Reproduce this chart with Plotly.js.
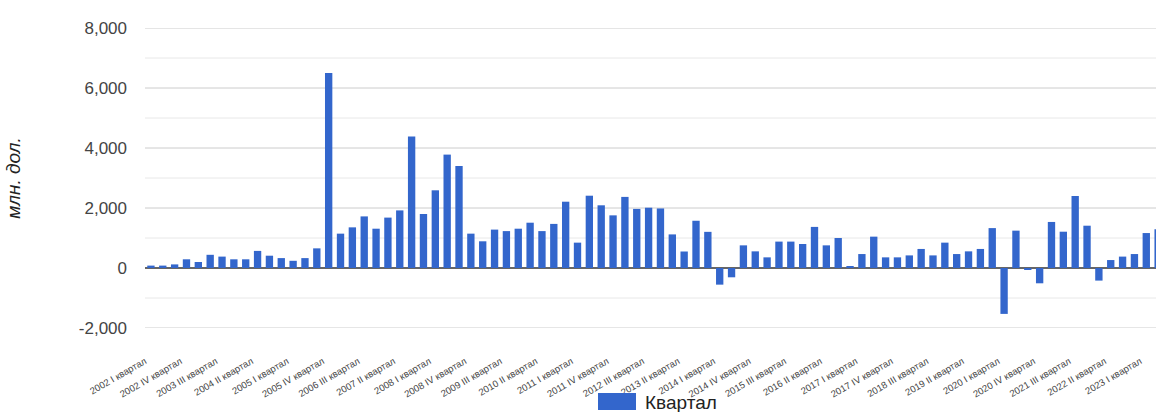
<!DOCTYPE html>
<html>
<head>
<meta charset="utf-8">
<script src="https://cdn.plot.ly/plotly-3.0.1.min.js"></script>
<style>
  html, body { margin: 0; padding: 0; background: #ffffff; }
  #chart { width: 1156px; height: 412px; }
</style>
</head>
<body>
<div id="chart"></div>
<script>
const quarters = [
  "2002 I квартал","2002 II квартал","2002 III квартал","2002 IV квартал",
  "2003 I квартал","2003 II квартал","2003 III квартал","2003 IV квартал",
  "2004 I квартал","2004 II квартал","2004 III квартал","2004 IV квартал",
  "2005 I квартал","2005 II квартал","2005 III квартал","2005 IV квартал",
  "2006 I квартал","2006 II квартал","2006 III квартал","2006 IV квартал",
  "2007 I квартал","2007 II квартал","2007 III квартал","2007 IV квартал",
  "2008 I квартал","2008 II квартал","2008 III квартал","2008 IV квартал",
  "2009 I квартал","2009 II квартал","2009 III квартал","2009 IV квартал",
  "2010 I квартал","2010 II квартал","2010 III квартал","2010 IV квартал",
  "2011 I квартал","2011 II квартал","2011 III квартал","2011 IV квартал",
  "2012 I квартал","2012 II квартал","2012 III квартал","2012 IV квартал",
  "2013 I квартал","2013 II квартал","2013 III квартал","2013 IV квартал",
  "2014 I квартал","2014 II квартал","2014 III квартал","2014 IV квартал",
  "2015 I квартал","2015 II квартал","2015 III квартал","2015 IV квартал",
  "2016 I квартал","2016 II квартал","2016 III квартал","2016 IV квартал",
  "2017 I квартал","2017 II квартал","2017 III квартал","2017 IV квартал",
  "2018 I квартал","2018 II квартал","2018 III квартал","2018 IV квартал",
  "2019 I квартал","2019 II квартал","2019 III квартал","2019 IV квартал",
  "2020 I квартал","2020 II квартал","2020 III квартал","2020 IV квартал",
  "2021 I квартал","2021 II квартал","2021 III квартал","2021 IV квартал",
  "2022 I квартал","2022 II квартал","2022 III квартал","2022 IV квартал",
  "2023 I квартал","2023 II квартал"
];

const values = [
  80, 80, 120, 290,
  200, 440, 380, 290,
  290, 570, 410, 330,
  240, 330, 655, 6500,
  1145, 1355, 1720, 1310,
  1680, 1920, 4380, 1800,
  2590, 3780, 3400, 1145,
  890, 1280, 1230, 1310,
  1510, 1230, 1470, 2210,
  845, 2410, 2090, 1755,
  2370, 1970, 2010, 1985,
  1120, 550, 1575, 1205,
  -555, -310, 755, 555,
  355, 880, 880, 800,
  1370, 755, 1000, 45,
  465, 1045, 355, 355,
  420, 635, 420, 845,
  465, 555, 635, 1330,
  -1530, 1245, -55, -510,
  1535, 1210, 2400, 1410,
  -420, 265, 380, 465,
  1165, 1290
];

const tickLabels = [
  "2002 I квартал","2002 IV квартал","2003 III квартал","2004 II квартал",
  "2005 I квартал","2005 IV квартал","2006 III квартал","2007 II квартал",
  "2008 I квартал","2008 IV квартал","2009 III квартал","2010 II квартал",
  "2011 I квартал","2011 IV квартал","2012 III квартал","2013 II квартал",
  "2014 I квартал","2014 IV квартал","2015 III квартал","2016 II квартал",
  "2017 I квартал","2017 IV квартал","2018 III квартал","2019 II квартал",
  "2020 I квартал","2020 IV квартал","2021 III квартал","2022 II квартал",
  "2023 I квартал"
];

const yTickValues = [-2000, 0, 2000, 4000, 6000, 8000];
const yTickLabels = ["-2,000", "0", "2,000", "4,000", "6,000", "8,000"];
const yMinorGrid = [-1000, 1000, 3000, 5000, 7000];

const seriesName = "Квартал";
const yTitle = "млн. дол.";
const barColor = "#3366cc";

const trace = {
  type: "bar",
  x: quarters,
  y: values,
  name: seriesName,
  marker: { color: barColor, line: { width: 0 } },
  hoverinfo: "x+y"
};

function gridLine(v, color) {
  return {
    type: "line", layer: "below", xref: "paper", yref: "y",
    x0: 0, x1: 1, y0: v, y1: v,
    line: { color: color, width: 1 }
  };
}

const gridShapes = []
  .concat(yMinorGrid.map(v => gridLine(v, "#e8e8e8")))
  .concat(yTickValues.filter(v => v !== 0).map(v => gridLine(v, "#cccccc")));

const layout = {
  width: 1156,
  height: 412,
  margin: { l: 145, r: 0, t: 28, b: 84, pad: 0 },
  paper_bgcolor: "#ffffff",
  plot_bgcolor: "#ffffff",
  bargap: 0.38,
  showlegend: false,
  font: { family: "Arial, 'Liberation Sans', sans-serif", color: "#444444" },
  xaxis: {
    type: "category",
    range: [-0.5, 84.82],
    tickmode: "array",
    tickvals: tickLabels,
    ticktext: tickLabels,
    tickangle: -30,
    tickfont: { size: 9.5, color: "#444444" },
    ticks: "",
    showgrid: false,
    showline: false,
    zeroline: false,
    ticklabelstandoff: 25,
    ticklabelshift: -6,
    fixedrange: true
  },
  yaxis: {
    range: [-2000, 8000],
    tickmode: "array",
    tickvals: yTickValues,
    ticktext: yTickLabels,
    tickfont: { size: 17, color: "#444444" },
    showgrid: false,
    zeroline: true,
    zerolinecolor: "#666666",
    zerolinewidth: 1.5,
    showline: false,
    ticks: "",
    ticklabelstandoff: 17,
    title: {
      text: "<i>" + yTitle + "</i>",
      font: { size: 19, color: "#222222" },
      standoff: 53
    },
    fixedrange: true
  },
  shapes: gridShapes.concat([
    {
      type: "rect", xref: "paper", yref: "paper",
      x0: (598 - 145) / 1011, x1: (636 - 145) / 1011,
      y0: (328 - 393) / 300, y1: (328 - 410) / 300,
      fillcolor: barColor, line: { width: 0 }
    }
  ]),
  annotations: [
    {
      xref: "paper", yref: "paper",
      x: (643 - 145) / 1011, y: (328 - 402) / 300,
      xanchor: "left", yanchor: "middle",
      text: seriesName, showarrow: false,
      font: { size: 19, color: "#222222" }
    }
  ]
};

Plotly.newPlot("chart", [trace], layout, { displayModeBar: false, staticPlot: false });
</script>
</body>
</html>
